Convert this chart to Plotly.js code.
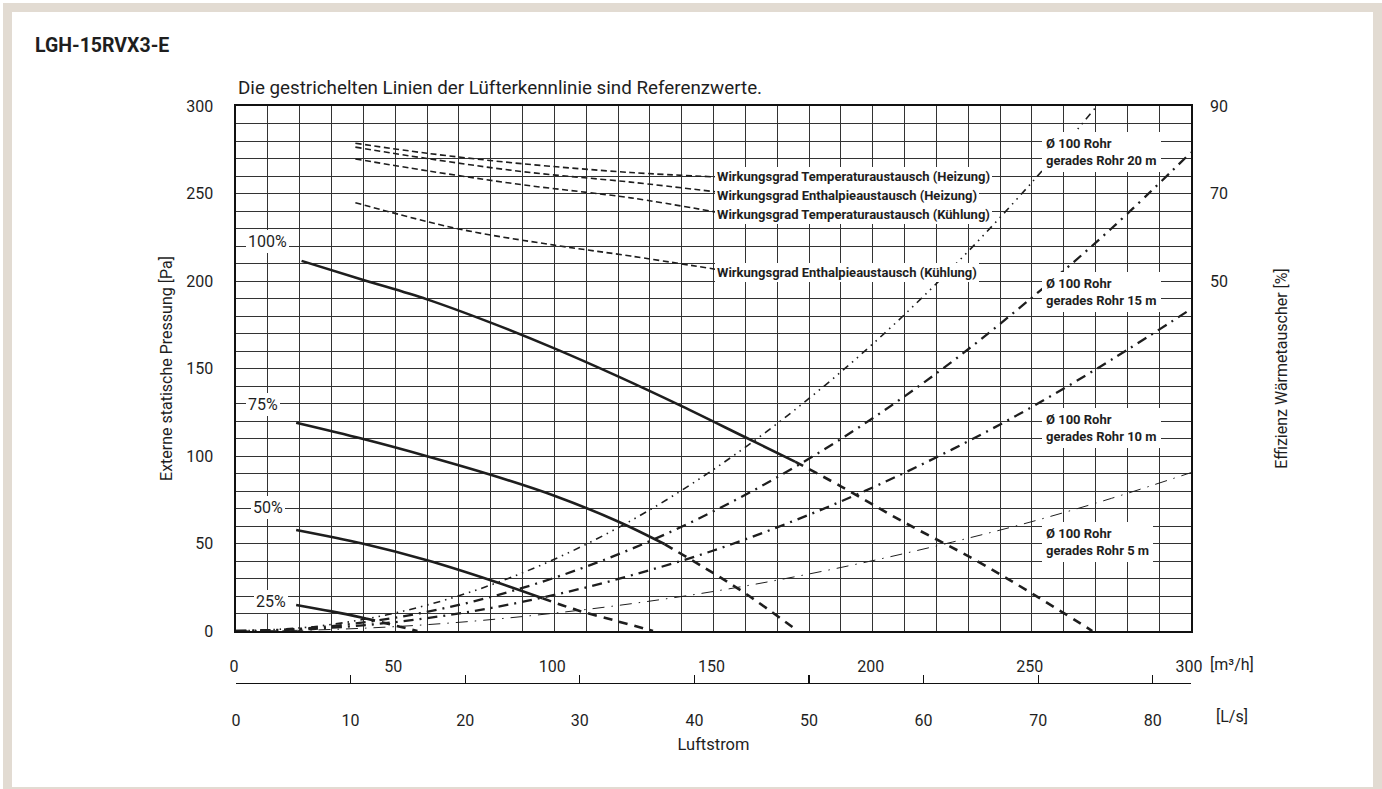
<!DOCTYPE html>
<html>
<head>
<meta charset="utf-8">
<script src="https://cdn.plot.ly/plotly-3.0.1.min.js"></script>
<style>
  html, body { margin:0; padding:0; background:#ffffff; }
  #wrap { position:relative; width:1382px; height:789px; overflow:hidden; }
  #frame { position:absolute; left:3px; top:3px; width:1379px; height:786px; background:#e2dbd2; }
  #panel { position:absolute; left:12px; top:12px; width:1361px; height:775px; background:#ffffff; }
  #chart { position:absolute; left:0; top:0; width:1382px; height:789px; }
</style>
</head>
<body>
<div id="wrap">
  <div id="frame"></div>
  <div id="panel"></div>
  <div id="chart"></div>
</div>
<script>
// ---------- Data ----------
// Airflow in m³/h, pressure in Pa, efficiency in %
const fan100Solid_x = [20.6, 40, 60, 80, 100, 120, 140, 160, 175.6];
const fan100Solid_y = [211.5, 200.6, 189.5, 176.2, 161.5, 145.5, 128.5, 110.7, 96.8];
const fan100Dash_x  = [175.6, 190, 210, 232, 250, 269];
const fan100Dash_y  = [96.8, 82.7, 62.0, 40.8, 21.5, 0];

const fan75Solid_x = [18.9, 40, 60, 80, 100, 120, 134.6];
const fan75Solid_y = [119.0, 109.7, 99.9, 89.3, 77.3, 62.6, 49.7];
const fan75Dash_x  = [134.6, 150, 160, 176.5];
const fan75Dash_y  = [49.7, 33.0, 21.5, 0];

const fan50Solid_x = [18.9, 40, 60, 80, 96.3];
const fan50Solid_y = [57.7, 49.8, 40.4, 29.0, 18.7];
const fan50Dash_x  = [96.3, 107, 120, 131];
const fan50Dash_y  = [18.7, 12.0, 5.5, 0];

const fan25Solid_x = [18.9, 30, 40.8];
const fan25Solid_y = [14.9, 11.2, 7.2];
const fan25Dash_x  = [40.8, 48, 57];
const fan25Dash_y  = [7.2, 4.0, 0];

// Duct resistance curves (Ø 100 straight duct)
const duct_x      = [0, 25, 50, 75, 100, 125, 150, 175, 200, 225, 250, 275, 300];
const duct5m_y    = [0, 0.6, 2.5, 5.7, 10.2, 15.8, 22.6, 30.8, 40.2, 50.8, 62.5, 75.8, 90.5];
const duct10m_y   = [0, 1.3, 5.1, 11.5, 20.6, 32.2, 46.0, 62.8, 82.0, 103.8, 128.0, 155.0, 184.0];
const duct15m_y   = [0, 1.9, 7.6, 17.1, 30.4, 47.5, 68.4, 93.1, 121.6, 154.0, 190.5, 230.0, 273.5];
const duct20m_x   = [0, 25, 50, 75, 100, 125, 150, 175, 200, 225, 250, 270];
const duct20m_y   = [0, 2.6, 10.3, 23.1, 41.0, 64.0, 92.3, 125.6, 164.0, 207.6, 256.3, 299.0];

// Heat exchanger efficiency curves (%)
const eff_x            = [37.5, 60, 90, 124, 150.5];
const effTempHeat_y    = [81.5, 79.2, 76.8, 74.8, 73.8];
const effEnthHeat_y    = [80.6, 78.0, 75.0, 72.6, 70.4];
const effTempCool_y    = [77.9, 75.2, 72.0, 69.0, 65.8];
const effEnthCool_x    = [37.5, 70, 100, 124, 150.5];
const effEnthCool_y    = [67.9, 61.9, 58.2, 55.7, 52.7];

// Labels
const effLabels  = ["Wirkungsgrad Temperaturaustausch (Heizung)",
                    "Wirkungsgrad Enthalpieaustausch (Heizung)",
                    "Wirkungsgrad Temperaturaustausch (Kühlung)",
                    "Wirkungsgrad Enthalpieaustausch (Kühlung)"];
const ductLabels = ["Ø 100 Rohr<br>gerades Rohr 20 m",
                    "Ø 100 Rohr<br>gerades Rohr 15 m",
                    "Ø 100 Rohr<br>gerades Rohr 10 m",
                    "Ø 100 Rohr<br>gerades Rohr 5 m"];
const fanLabels  = ["100%", "75%", "50%", "25%"];

const xTicksM3h  = [0, 50, 100, 150, 200, 250, 300];
const xTicksLs   = [0, 10, 20, 30, 40, 50, 60, 70, 80];
const yTicksPa   = [0, 50, 100, 150, 200, 250, 300];
const yTicksEff  = [50, 70, 90];

// ---------- Styling ----------
const INK = '#1e1e1e';
const REG = 'Roboto, "Liberation Sans", Arial, sans-serif';
const NAR = 'Roboto, "Liberation Sans", sans-serif';

const grid10 = [];
for (let v = 0; v <= 300; v += 10) grid10.push(v);
const gridTextX = grid10.map(v => xTicksM3h.includes(v) ? String(v) : '');
const gridTextY = grid10.map(v => yTicksPa.includes(v) ? String(v) : '');

function line(x, y, opts) {
  return Object.assign({
    type: 'scatter', mode: 'lines', x: x, y: y, hoverinfo: 'skip',
    xaxis: 'x', yaxis: 'y', showlegend: false,
    line: Object.assign({ color: INK, width: 2.5, shape: 'spline', smoothing: 1.0 }, opts.line || {})
  }, opts.extra || {});
}

const traces = [
  // duct curves
  line(duct_x, duct5m_y,  { line: { width: 1.0, dash: '12px,7px,1.5px,7px' } }),
  line(duct_x, duct10m_y, { line: { width: 2.3, dash: '10px,6px,2px,6px' } }),
  line(duct_x, duct15m_y, { line: { width: 2.3, dash: '10px,6px,2px,6px' } }),
  line(duct20m_x, duct20m_y, { line: { width: 1.6, dash: '7px,5px,1.5px,5px,1.5px,5px' } }),
  // fan curves
  line(fan100Solid_x, fan100Solid_y, { line: { width: 2.6 } }),
  line(fan100Dash_x,  fan100Dash_y,  { line: { width: 2.6, dash: '9px,7px' } }),
  line(fan75Solid_x,  fan75Solid_y,  { line: { width: 2.6 } }),
  line(fan75Dash_x,   fan75Dash_y,   { line: { width: 2.6, dash: '9px,7px' } }),
  line(fan50Solid_x,  fan50Solid_y,  { line: { width: 2.6 } }),
  line(fan50Dash_x,   fan50Dash_y,   { line: { width: 2.6, dash: '9px,7px' } }),
  line(fan25Solid_x,  fan25Solid_y,  { line: { width: 2.6 } }),
  line(fan25Dash_x,   fan25Dash_y,   { line: { width: 2.6, dash: '9px,7px' } }),
  // efficiency curves on right axis
  line(eff_x, effTempHeat_y, { line: { width: 1.6, dash: '6px,3.5px' }, extra: { yaxis: 'y2' } }),
  line(eff_x, effEnthHeat_y, { line: { width: 1.6, dash: '6px,3.5px' }, extra: { yaxis: 'y2' } }),
  line(eff_x, effTempCool_y, { line: { width: 1.6, dash: '6px,3.5px' }, extra: { yaxis: 'y2' } }),
  line(effEnthCool_x, effEnthCool_y, { line: { width: 1.6, dash: '6px,3.5px' }, extra: { yaxis: 'y2' } }),
  // invisible trace to activate the L/s axis
  { type: 'scatter', mode: 'lines', x: [0, 80], y: [null, null], xaxis: 'x2', yaxis: 'y',
    hoverinfo: 'skip', showlegend: false, line: { color: 'rgba(0,0,0,0)' } }
];

const annotations = [];
// efficiency labels at the end of each curve
const effLabelY = [73.8, 69.5, 65.3, 52.0];
effLabels.forEach((t, i) => {
  annotations.push({
    text: t, x: eff_x[eff_x.length - 1], y: effLabelY[i], xref: 'x', yref: 'y2',
    xanchor: 'left', yanchor: 'middle', showarrow: false, bgcolor: '#ffffff',
    borderpad: 2, borderwidth: 0,
    font: { family: NAR, size: 13, color: INK, weight: 'bold' }
  });
});
// duct labels
const ductLabelY = [274, 194, 115.8, 50.6];
ductLabels.forEach((t, i) => {
  annotations.push({
    text: t, x: 253.2, y: ductLabelY[i], xref: 'x', yref: 'y',
    xanchor: 'left', yanchor: 'middle', align: 'left', showarrow: false,
    bgcolor: '#ffffff', borderpad: 4, borderwidth: 0,
    font: { family: NAR, size: 13, color: INK, weight: 'bold' }
  });
});
// fan % labels
const fanLabelPos = [[10.05, 222.3], [8.5, 129.7], [10.05, 70.3], [11.0, 17.1]];
fanLabels.forEach((t, i) => {
  annotations.push({
    text: t, x: fanLabelPos[i][0], y: fanLabelPos[i][1], xref: 'x', yref: 'y',
    xanchor: 'center', yanchor: 'middle', showarrow: false,
    bgcolor: '#ffffff', borderpad: 2, borderwidth: 0,
    font: { family: REG, size: 16, color: INK }
  });
});
// subtitle
annotations.push({
  text: 'Die gestrichelten Linien der Lüfterkennlinie sind Referenzwerte.',
  x: 0, y: 1.031, xref: 'paper', yref: 'paper', xanchor: 'left', yanchor: 'middle',
  showarrow: false, font: { family: NAR, size: 18.8, color: INK }
});
// unit labels
annotations.push({
  text: '[m³/h]', x: 1.0429, y: 0.0329, xref: 'paper', yref: 'paper',
  xanchor: 'center', yanchor: 'middle', showarrow: false,
  font: { family: NAR, size: 16, color: INK }
});
annotations.push({
  text: '[L/s]', x: 1.0429, y: -0.0589, xref: 'paper', yref: 'paper',
  xanchor: 'center', yanchor: 'middle', showarrow: false,
  font: { family: NAR, size: 16, color: INK }
});

const gridColor = '#333333';
const layout = {
  width: 1382, height: 789,
  margin: { l: 236, r: 191, t: 106, b: 106, pad: 0 },
  paper_bgcolor: 'rgba(0,0,0,0)',
  plot_bgcolor: '#ffffff',
  showlegend: false,
  hovermode: false,
  title: {
    text: '<b>LGH-15RVX3-E</b>', x: 35 / 1382, xref: 'container', xanchor: 'left',
    y: 1 - 45 / 789, yref: 'container', yanchor: 'middle',
    font: { family: NAR, size: 19.5, color: INK }
  },
  xaxis: {
    domain: [0, 1], range: [0, 300], anchor: 'y',
    tickmode: 'array', tickvals: grid10, ticktext: gridTextX,
    ticks: '', ticklabelstandoff: 20, ticklabelshift: -2,
    tickfont: { family: REG, size: 16, color: INK },
    showgrid: true, gridcolor: gridColor, gridwidth: 1,
    showline: true, linecolor: '#111', linewidth: 1.6, mirror: true,
    zeroline: false, fixedrange: true
  },
  xaxis2: {
    overlaying: 'x', anchor: 'free', position: 0, side: 'bottom',
    domain: [0, 1], range: [0, 300 / 3.6],
    tickmode: 'array', tickvals: xTicksLs, ticktext: xTicksLs.map(String),
    ticks: 'inside', ticklen: 8, tickwidth: 1.2, tickcolor: '#111',
    ticklabelstandoff: 22,
    tickfont: { family: REG, size: 16, color: INK },
    showgrid: false, zeroline: false,
    showline: true, linecolor: '#111', linewidth: 1.4,
    title: { text: 'Luftstrom', standoff: 10, font: { family: NAR, size: 16.5, color: INK } },
    fixedrange: true
  },
  yaxis: {
    domain: [52 / 577, 1], range: [0, 300], anchor: 'x',
    tickmode: 'array', tickvals: grid10, ticktext: gridTextY,
    ticks: '', ticklabelstandoff: 18,
    tickfont: { family: REG, size: 16, color: INK },
    showgrid: true, gridcolor: gridColor, gridwidth: 1,
    showline: true, linecolor: '#111', linewidth: 1.6, mirror: true,
    zeroline: false,
    title: { text: 'Externe statische Pressung [Pa]', standoff: 9, font: { family: NAR, size: 16, color: INK } },
    fixedrange: true
  },
  yaxis2: {
    overlaying: 'y', side: 'right', anchor: 'x',
    domain: [52 / 577, 1], range: [-30, 90],
    tickmode: 'array', tickvals: yTicksEff, ticktext: yTicksEff.map(String),
    ticks: '', ticklabelstandoff: 18,
    tickfont: { family: REG, size: 16, color: INK },
    showgrid: false, zeroline: false, showline: false,
    title: { text: 'Effizienz Wärmetauscher [%]', standoff: 48, font: { family: NAR, size: 16, color: INK } },
    fixedrange: true
  },
  annotations: annotations
};

Plotly.newPlot('chart', traces, layout, { staticPlot: true, displayModeBar: false });
</script>
</body>
</html>
